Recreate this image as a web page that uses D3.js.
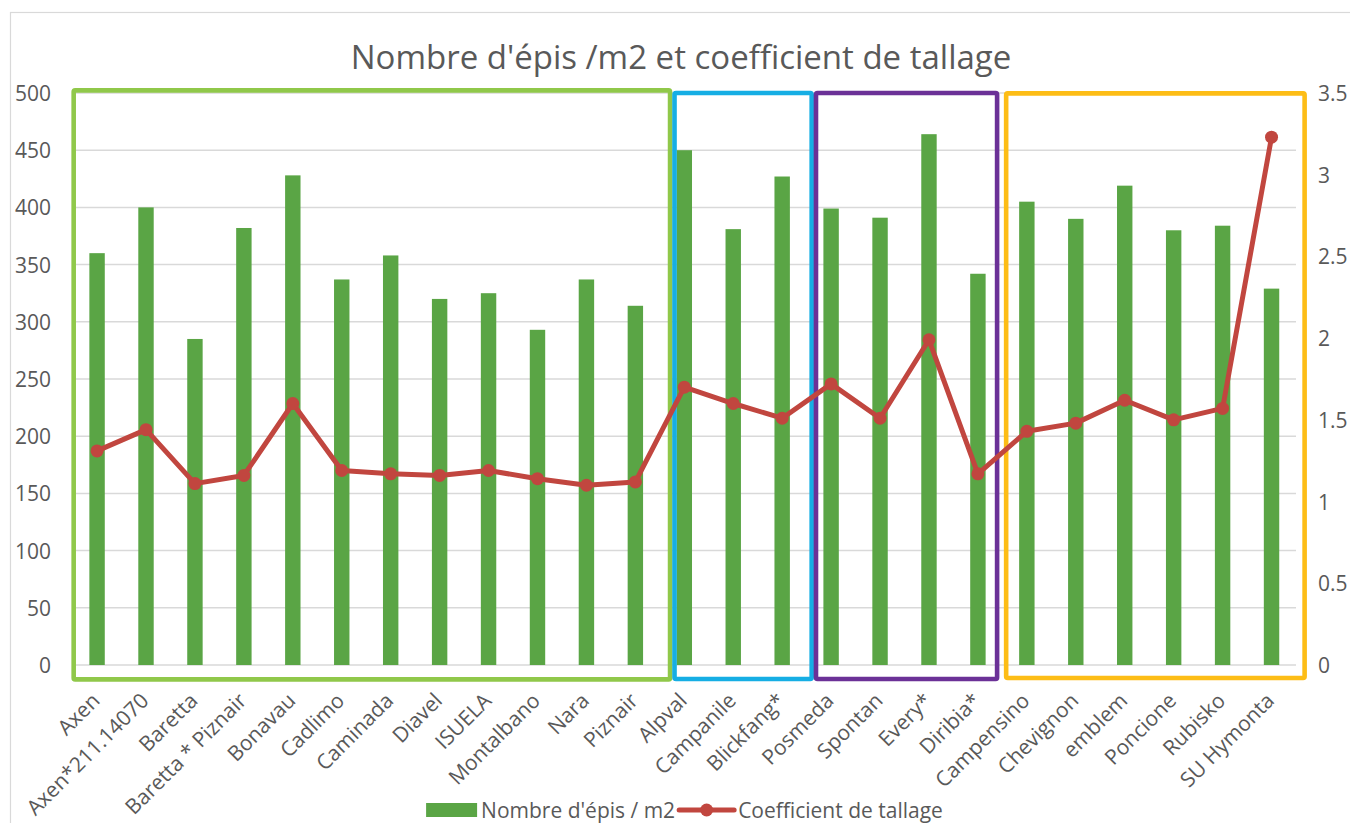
<!DOCTYPE html>
<html>
<head>
<meta charset="utf-8">
<script src="https://cdn.jsdelivr.net/npm/d3@7"></script>
<style>
  html, body { margin: 0; padding: 0; background: #fff; }
  svg { display: block; font-family: "Open Sans", "Noto Sans", sans-serif; }
</style>
</head>
<body>
<svg id="chart" width="1350" height="823"></svg>
<script>
// ---------- DATA ----------
const categories = ["Axen", "Axen*211.14070", "Baretta", "Baretta * Piznair", "Bonavau", "Cadlimo",
  "Caminada", "Diavel", "ISUELA", "Montalbano", "Nara", "Piznair", "Alpval", "Campanile",
  "Blickfang*", "Posmeda", "Spontan", "Every*", "Diribia*", "Campensino", "Chevignon",
  "emblem", "Poncione", "Rubisko", "SU Hymonta"];
const epis = [360, 400, 285, 382, 428, 337, 358, 320, 325, 293, 337, 314, 450, 381,
  427, 399, 391, 464, 342, 405, 390, 419, 380, 384, 329];
const tallage = [1.31, 1.44, 1.11, 1.16, 1.60, 1.19, 1.17, 1.16, 1.19, 1.14, 1.10, 1.12, 1.70, 1.60,
  1.51, 1.72, 1.51, 1.99, 1.17, 1.43, 1.48, 1.62, 1.50, 1.57, 3.23];
const leftTicks = [0, 50, 100, 150, 200, 250, 300, 350, 400, 450, 500];
const rightTicks = [0, 0.5, 1, 1.5, 2, 2.5, 3, 3.5];
const seriesNames = ["Nombre d'épis / m2", "Coefficient de tallage"];
const title = "Nombre d'épis /m2 et coefficient de tallage";
// highlighted groups (first / last category of each frame)
const groupFirst = ["Axen", "Alpval", "Posmeda", "Campensino"];
const groupLast = ["Piznair", "Blickfang*", "Diribia*", "SU Hymonta"];
const groupColors = ["#90c84a", "#16aee4", "#6b3197", "#fdbd16"];
// frame extents (left/right offset in steps, top/bottom in axis units) — layout
const groupLeftOff = [-0.478, -0.2, -0.309, -0.423];
const groupRightOff = [0.709, 0.603, 0.392, 0.676];
const groupTop = [502.3, 500, 500, 499.7];
const groupBottom = [-12.6, -12.2, -12.2, -11.4];

// ---------- LAYOUT ----------
const W = 1350, H = 823;
const plot = { left: 72.6, right: 1296, top: 93, bottom: 665 };
const barColor = "#5aa545", lineColor = "#c1463f", textColor = "#595959", gridColor = "#d9d9d9";

const svg = d3.select("#chart");

// chart border
svg.append("rect").attr("x", 10.5).attr("y", 12.5).attr("width", W).attr("height", H)
  .attr("fill", "none").attr("stroke", gridColor).attr("stroke-width", 1.2);

const x = d3.scaleBand().domain(categories).range([plot.left, plot.right])
  .paddingInner(0.685).paddingOuter(0.3425);
const yL = d3.scaleLinear().domain([0, 500]).range([plot.bottom, plot.top]);
const yR = d3.scaleLinear().domain([0, 3.5]).range([plot.bottom, plot.top]);
const cx = d => x(d) + x.bandwidth() / 2;

// title
svg.append("text").attr("x", 681).attr("y", 69).attr("text-anchor", "middle")
  .attr("font-size", 33).attr("fill", textColor).text(title);

// gridlines
svg.append("g").selectAll("line").data(leftTicks).join("line")
  .attr("x1", plot.left).attr("x2", plot.right)
  .attr("y1", d => yL(d)).attr("y2", d => yL(d))
  .attr("stroke", gridColor).attr("stroke-width", 1.5);

// left axis
const axL = d3.axisLeft(yL).tickValues(leftTicks).tickSize(0).tickPadding(0);
const gL = svg.append("g").attr("transform", "translate(51,0)").call(axL);
gL.select(".domain").remove();
gL.selectAll("text").attr("font-size", 21).attr("fill", textColor)
  .attr("font-family", "Open Sans, sans-serif").attr("dy", "0.36em").attr("x", 0);

// right axis
const axR = d3.axisRight(yR).tickValues(rightTicks).tickSize(0).tickPadding(0)
  .tickFormat(d => String(d));
const gR = svg.append("g").attr("transform", "translate(1318,0)").call(axR);
gR.select(".domain").remove();
gR.selectAll("text").attr("font-size", 21).attr("fill", textColor)
  .attr("font-family", "Open Sans, sans-serif").attr("dy", "0.36em").attr("x", 0);

// bars
svg.append("g").selectAll("rect").data(categories).join("rect")
  .attr("x", d => x(d)).attr("width", x.bandwidth())
  .attr("y", (d, i) => yL(epis[i])).attr("height", (d, i) => yL(0) - yL(epis[i]))
  .attr("fill", barColor);

// group frames
const frames = svg.append("g");
groupFirst.forEach((f, i) => {
  const x0 = cx(f) + groupLeftOff[i] * x.step();
  const x1 = cx(groupLast[i]) + groupRightOff[i] * x.step();
  const y0 = yL(groupTop[i]), y1 = yL(groupBottom[i]);
  frames.append("rect").attr("x", x0).attr("y", y0).attr("width", x1 - x0).attr("height", y1 - y0)
    .attr("rx", 1.5).attr("fill", "none").attr("stroke", groupColors[i]).attr("stroke-width", 4.6)
    .attr("stroke-linejoin", "round");
});

// line
const line = d3.line().x((d, i) => cx(categories[i])).y(d => yR(d));
svg.append("path").datum(tallage).attr("d", line).attr("fill", "none")
  .attr("stroke", lineColor).attr("stroke-width", 5).attr("stroke-linejoin", "round");
svg.append("g").selectAll("circle").data(tallage).join("circle")
  .attr("cx", (d, i) => cx(categories[i])).attr("cy", d => yR(d)).attr("r", 6.5)
  .attr("fill", lineColor);

// x labels
svg.append("g").selectAll("text").data(categories).join("text")
  .attr("transform", d => `translate(${cx(d) + 4},${702}) rotate(-45)`)
  .attr("text-anchor", "end").attr("font-size", 21).attr("fill", textColor).text(d => d);

// legend
const leg = svg.append("g");
const ly = 810;
const t1 = leg.append("text").attr("font-size", 21).attr("fill", textColor).attr("y", ly).attr("dy", "0.36em").text(seriesNames[0]);
const t2 = leg.append("text").attr("font-size", 21).attr("fill", textColor).attr("y", ly).attr("dy", "0.36em").text(seriesNames[1]);
const w1 = t1.node().getComputedTextLength(), w2 = t2.node().getComputedTextLength();
const sw = 51, gap = 4, lw = 55;
const total = sw + gap + w1 + gap + lw + gap + w2;
let lx = 684.5 - total / 2;
leg.append("rect").attr("x", lx).attr("y", ly - 7).attr("width", sw).attr("height", 14).attr("fill", barColor);
lx += sw + gap; t1.attr("x", lx); lx += w1 + gap;
leg.append("line").attr("x1", lx).attr("x2", lx + lw).attr("y1", ly).attr("y2", ly)
  .attr("stroke", lineColor).attr("stroke-width", 5).attr("stroke-linecap", "round");
leg.append("circle").attr("cx", lx + lw / 2).attr("cy", ly).attr("r", 6.5).attr("fill", lineColor);
lx += lw + gap; t2.attr("x", lx);
</script>
</body>
</html>
